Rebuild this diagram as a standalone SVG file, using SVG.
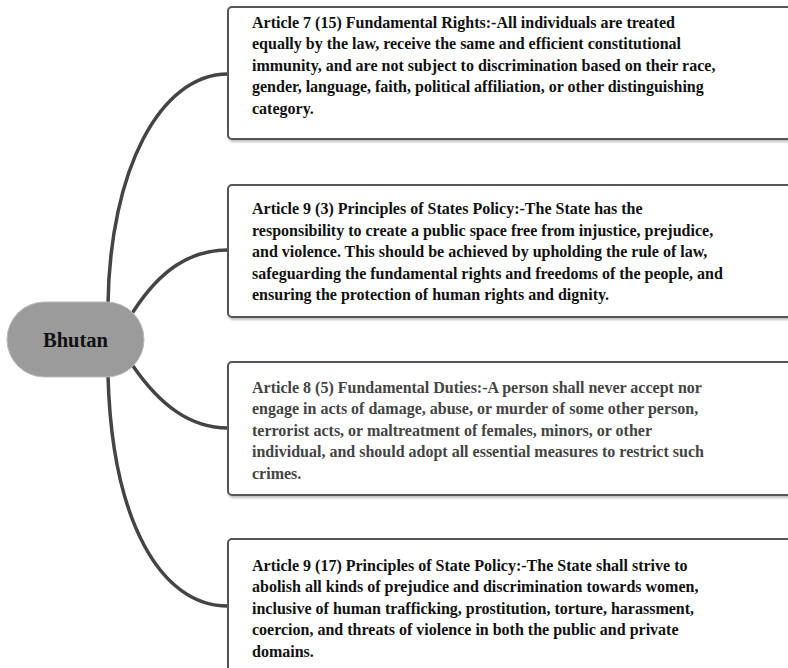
<svg xmlns="http://www.w3.org/2000/svg" width="788" height="668" viewBox="0 0 788 668">
<defs>
<filter id="sh" x="-5%" y="-5%" width="110%" height="115%">
<feDropShadow dx="1" dy="2" stdDeviation="1" flood-color="#000" flood-opacity="0.25"/>
</filter>
</defs>
<style>
.box{fill:#fff;stroke:#555;stroke-width:2;filter:url(#sh)}
.t{font-family:"Liberation Serif","Times New Roman",serif;font-weight:bold;font-size:16px;fill:#111}
.g{fill:#444}
.conn{fill:none;stroke:#444;stroke-width:3.5;stroke-linecap:round}
.root{fill:#9b9b9b;stroke:#bbb;stroke-width:1}
.rt{font-family:"Liberation Serif","Times New Roman",serif;font-weight:bold;font-size:20.5px;fill:#111}
</style>
<rect width="788" height="668" fill="#fff"/>
<g id="connectors">
<path class="conn" d="M108,304 C110,170 160,74 228,74"/>
<path class="conn" d="M133,312 C160,270 190,250 228,250"/>
<path class="conn" d="M133,366 C160,405 190,428 228,428"/>
<path class="conn" d="M108,376 C112,520 160,606 228,606"/>
</g>
<g id="node-bhutan">
<rect class="root" x="7" y="302" width="137" height="75" rx="37.5"/>
<text class="rt" x="75.5" y="347" text-anchor="middle">Bhutan</text>
</g>
<g id="node-art7">
<rect class="box" x="228" y="7" width="580" height="132" rx="4"/>
<text class="t" x="252"><tspan x="252" y="27.5">Article 7 (15) Fundamental Rights:-All individuals are treated</tspan><tspan x="252" y="49">equally by the law, receive the same and efficient constitutional</tspan><tspan x="252" y="70.5">immunity, and are not subject to discrimination based on their race,</tspan><tspan x="252" y="92">gender, language, faith, political affiliation, or other distinguishing</tspan><tspan x="252" y="113.5">category.</tspan></text>
</g>
<g id="node-art9-3">
<rect class="box" x="228" y="185" width="580" height="132" rx="4"/>
<text class="t" x="252"><tspan x="252" y="214">Article 9 (3) Principles of States Policy:-The State has the</tspan><tspan x="252" y="235.5">responsibility to create a public space free from injustice, prejudice,</tspan><tspan x="252" y="257">and violence. This should be achieved by upholding the rule of law,</tspan><tspan x="252" y="278.5">safeguarding the fundamental rights and freedoms of the people, and</tspan><tspan x="252" y="300">ensuring the protection of human rights and dignity.</tspan></text>
</g>
<g id="node-art8">
<rect class="box" x="228" y="362" width="580" height="133" rx="4"/>
<text class="t g" x="252"><tspan x="252" y="392.5">Article 8 (5) Fundamental Duties:-A person shall never accept nor</tspan><tspan x="252" y="414">engage in acts of damage, abuse, or murder of some other person,</tspan><tspan x="252" y="435.5">terrorist acts, or maltreatment of females, minors, or other</tspan><tspan x="252" y="457">individual, and should adopt all essential measures to restrict such</tspan><tspan x="252" y="478.5">crimes.</tspan></text>
</g>
<g id="node-art9-17">
<rect class="box" x="228" y="539" width="580" height="140" rx="4"/>
<text class="t" x="252"><tspan x="252" y="570.5">Article 9 (17) Principles of State Policy:-The State shall strive to</tspan><tspan x="252" y="592">abolish all kinds of prejudice and discrimination towards women,</tspan><tspan x="252" y="613.5">inclusive of human trafficking, prostitution, torture, harassment,</tspan><tspan x="252" y="635">coercion, and threats of violence in both the public and private</tspan><tspan x="252" y="656.5">domains.</tspan></text>
</g>
</svg>
